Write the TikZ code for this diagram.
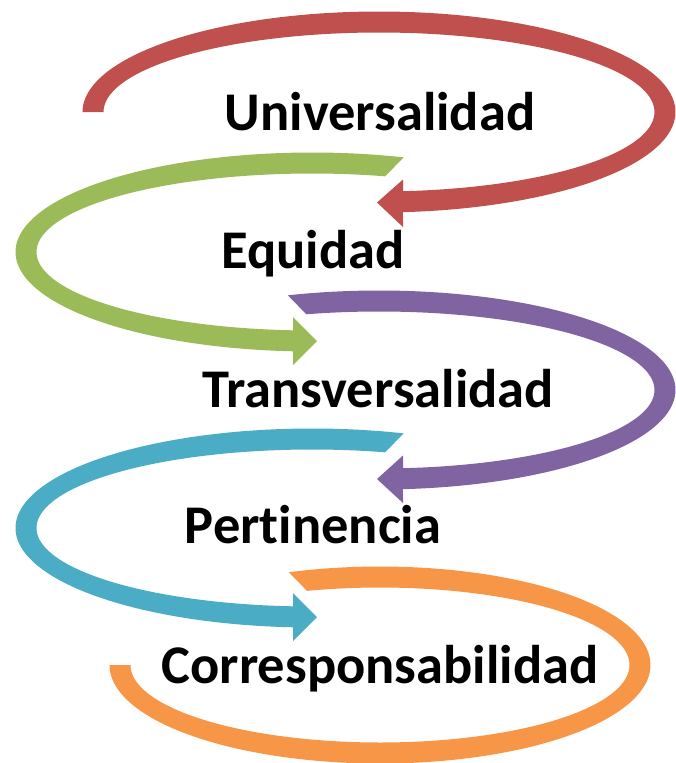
\documentclass[tikz,border=0pt]{standalone}
\usepackage{fontspec}
\setmainfont{Carlito}[Ligatures={NoCommon,NoRare,NoContextual}]
\definecolor{cRed}{HTML}{C0504D}
\definecolor{cGreen}{HTML}{9BBB59}
\definecolor{cPurple}{HTML}{8064A2}
\definecolor{cBlue}{HTML}{4BACC6}
\definecolor{cOrange}{HTML}{F79646}
\tikzset{
  lbl/.style={anchor=base, inner sep=0pt, font=\fontsize{54.5}{60}\selectfont\bfseries, text=black},
  smp/.style={samples=140, smooth}
}
\begin{document}
\begin{tikzpicture}[x=1pt,y=-1pt]
\useasboundingbox (0,0) rectangle (675,763);
% red
\fill[cRed] plot[smp,domain=180:-85.36] ({379+296.5*cos(\x)},{112-100.5*sin(\x)})
  -- (403,227) -- (377,202.5) -- (403,179.5)
  -- plot[smp,domain=-85:180] ({379+275.5*cos(\x)},{112-79.5*sin(\x)}) -- cycle;
% green
\fill[cGreen] plot[smp,domain=72:266.33] ({312+296.5*cos(\x)},{252-99.5*sin(\x)})
  -- (293,365) -- (317,341) -- (293,317)
  -- plot[smp,domain=266.05:74.6] ({312+275.5*cos(\x)},{252-78.5*sin(\x)}) -- cycle;
% purple
\fill[cPurple] plot[smp,domain=107.9:-85.36] ({379+296.5*cos(\x)},{390-99.5*sin(\x)})
  -- (403,503) -- (377,479) -- (403,455.5)
  -- plot[smp,domain=-85:105.3] ({379+275.5*cos(\x)},{390-78.5*sin(\x)}) -- cycle;
% blue
\fill[cBlue] plot[smp,domain=72:266.33] ({312+296.5*cos(\x)},{528-99.5*sin(\x)})
  -- (293,641) -- (317,617) -- (293,593)
  -- plot[smp,domain=266.05:74.6] ({312+275.5*cos(\x)},{528-78.5*sin(\x)}) -- cycle;
% orange
\fill[cOrange] plot[smp,domain=109.7:-180] ({380+270.5*cos(\x)},{665-98.5*sin(\x)})
  -- plot[smp,domain=-180:107.0] ({380+249.5*cos(\x)},{665-77.5*sin(\x)}) -- cycle;
% labels
\node[lbl] (u) at (380,130) {Universalidad};
\node[lbl] (e) at (313,268) {Equidad};
\node[lbl] (t) at (378,407) {Transversalidad};
\node[lbl] (p) at (313,543) {Pertinencia};
\node[lbl] (c) at (380,683) {Corresponsabilidad};
\end{tikzpicture}
\end{document}
